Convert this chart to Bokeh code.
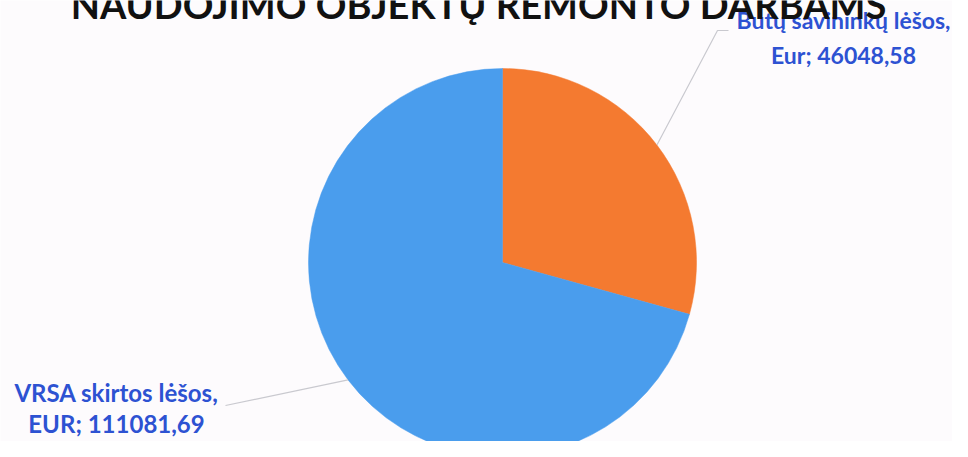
import math
from bokeh.plotting import figure
from bokeh.models import Range1d, ColumnDataSource
from bokeh.core.properties import value
from bokeh.embed import file_html
from bokeh.resources import INLINE

# ---- data ----
title_text = "NAUDOJIMO OBJEKTŲ REMONTO DARBAMS"
categories = ["Butų savininkų lėšos", "VRSA skirtos lėšos"]
currencies = ["Eur", "EUR"]
amounts = [46048.58, 111081.69]
colors = ["#f47a30", "#4a9ded"]

# ---- layout (picture pixel coordinates, y measured from the top) ----
W, H = 952, 441
cx, cy_img, R = 502, 262, 194
label_pos = [(843, 19), (116, 392)]       # centre x, first-line anchor
label_gap = [35, 31]
label_size = ["23px", "24px"]
leader_start = [[(728, 30), (717, 30)], [(225, 405)]]

def Y(yimg):
    return H - yimg

p = figure(width=W, height=H, output_backend="svg", toolbar_location=None,
           x_range=Range1d(0, W), y_range=Range1d(0, H), min_border=0)
p.axis.visible = False
p.grid.visible = False
p.outline_line_color = None
p.background_fill_color = "#fdfbfd"
p.border_fill_color = "#fdfbfd"

total = sum(amounts)
starts, ends, mids = [], [], []
a = math.pi / 2
for v in amounts:
    sweep = 2 * math.pi * v / total
    starts.append(a)
    ends.append(a - sweep)
    mids.append(a - sweep / 2)
    a -= sweep

src = ColumnDataSource(dict(x=[cx] * len(amounts), y=[Y(cy_img)] * len(amounts),
                            start=starts, end=ends, color=colors))
p.wedge(x="x", y="y", radius=R, start_angle="start", end_angle="end",
        direction="clock", fill_color="color", line_color="color",
        line_width=0.5, source=src)

# leader lines
for i, m in enumerate(mids):
    ex = cx + R * math.cos(m)
    ey = Y(cy_img) + R * math.sin(m)
    pts = leader_start[i]
    xs = [pt[0] for pt in pts] + [ex]
    ys = [Y(pt[1]) for pt in pts] + [ey]
    p.line(xs, ys, line_color="#c9c9cf", line_width=1.2)

# data labels
def fmt(v):
    return f"{v:.2f}".replace(".", ",")

for i, cat in enumerate(categories):
    lx, ly = label_pos[i]
    lines = [f"{cat},", f"{currencies[i]}; {fmt(amounts[i])}"]
    p.text(x=[lx, lx], y=[Y(ly), Y(ly + label_gap[i])], text=lines,
           text_align="center", text_baseline="alphabetic",
           text_font=value("Lato"), text_font_style="bold",
           text_font_size=label_size[i], text_color="#2d52d2")

# title (cut off at the top like the reference)
p.text(x=[478], y=[Y(3)], text=[title_text], text_align="center",
       text_baseline="alphabetic", text_font=value("Lato"),
       text_font_style="bold", text_font_size="38px", text_color="#111111")

open("out.html", "w").write(file_html(p, INLINE))
